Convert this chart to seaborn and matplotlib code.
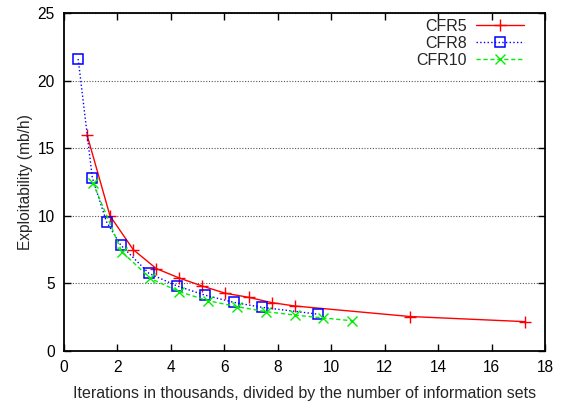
import matplotlib
matplotlib.use("Agg")
import matplotlib.pyplot as plt
import seaborn as sns
import pandas as pd

cfr5_x = [0.86, 1.72, 2.59, 3.45, 4.31, 5.18, 6.04, 6.91, 7.77, 8.63, 12.95, 17.27]
cfr5_y = [16.0, 10.0, 7.5, 6.1, 5.4, 4.8, 4.27, 3.97, 3.58, 3.33, 2.55, 2.17]

cfr8_x = [0.53, 1.06, 1.59, 2.12, 3.18, 4.23, 5.29, 6.35, 7.41, 9.52]
cfr8_y = [21.6, 12.8, 9.56, 7.84, 5.74, 4.81, 4.12, 3.6, 3.23, 2.72]

cfr10_x = [1.08, 2.16, 3.23, 4.31, 5.39, 6.47, 7.55, 8.63, 9.70, 10.78]
cfr10_y = [12.45, 7.35, 5.37, 4.39, 3.72, 3.28, 2.91, 2.66, 2.44, 2.24]

labels = ["CFR5", "CFR8", "CFR10"]
x_ticks = [0, 2, 4, 6, 8, 10, 12, 14, 16, 18]
y_ticks = [0, 5, 10, 15, 20, 25]

sns.set_style("ticks")
plt.rcParams['font.family'] = ['Liberation Sans', 'DejaVu Sans']
plt.rcParams['font.size'] = 11

fig = plt.figure(figsize=(5.65, 4.04), dpi=100)
ax = fig.add_axes([0.1133, 0.1312, 0.8513, 0.8366])

series = [
    (cfr5_x, cfr5_y, labels[0], dict(color="#ff0000", markeredgecolor="#ff0000", linestyle="-",
                                     marker="+", markersize=8, markeredgewidth=1.0)),
    (cfr8_x, cfr8_y, labels[1], dict(color="#0000ff", markeredgecolor="#0000ff", linestyle=":",
                                     marker="s", markersize=7, markeredgewidth=1.1,
                                     markerfacecolor="none")),
    (cfr10_x, cfr10_y, labels[2], dict(color="#00ee00", markeredgecolor="#00ee00",
                                       linestyle=(0, (3, 2)), marker="x", markersize=7,
                                       markeredgewidth=1.0)),
]
for xs, ys, lab, kw in series:
    df = pd.DataFrame({"x": xs, "y": ys})
    sns.lineplot(data=df, x="x", y="y", ax=ax, label=lab, linewidth=1.0, **kw)

ax.set_xlim(0, 18)
ax.set_ylim(0, 25)
ax.set_xticks(x_ticks)
ax.set_yticks(y_ticks)
ax.set_xlabel("Iterations in thousands, divided by the number of information sets",
              fontsize=11.5, labelpad=8)
ax.set_ylabel("Exploitability (mb/h)", fontsize=11.2, labelpad=3.5)
ax.tick_params(direction="in", length=5, width=1, top=True, right=True, labelsize=11.2,
               colors="black", pad=6.5)
for s in ax.spines.values():
    s.set_visible(True)
    s.set_linewidth(1.3)
    s.set_color("black")
ax.yaxis.grid(True, linestyle=(0, (1, 1.5)), color="#555555", linewidth=0.8)
ax.xaxis.grid(False)

leg = ax.legend(loc="upper right", bbox_to_anchor=(0.983, 1.021), markerfirst=False,
                frameon=False, handlelength=3.0, labelspacing=0.12, handletextpad=0.6,
                borderaxespad=0.4, fontsize=11.5)

fig.savefig("out.png", dpi=100)
